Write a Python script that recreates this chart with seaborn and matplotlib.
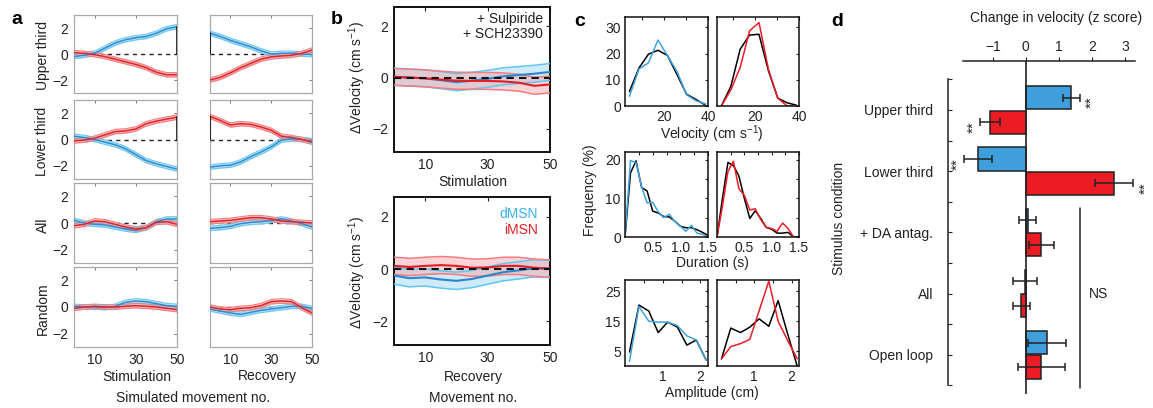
import matplotlib
matplotlib.use("Agg")
import matplotlib.pyplot as plt
from matplotlib.ticker import FixedLocator
import pandas as pd
import seaborn as sns

sns.set_theme(style="white")
plt.rcParams['font.family'] = ['Liberation Sans', 'DejaVu Sans']
plt.rcParams['mathtext.fontset'] = 'custom'
plt.rcParams['mathtext.rm'] = 'Liberation Sans'
plt.rcParams['mathtext.it'] = 'Liberation Sans:italic'
plt.rcParams['axes.unicode_minus'] = True

# ---------------- panel a: simulated movements ----------------
movement = [0, 5, 10, 15, 20, 25, 30, 35, 40, 45, 50]
a_rows = ["Upper third", "Lower third", "All", "Random"]

upper_stim_d = [-0.2, -0.1, 0.05, 0.45, 0.85, 1.1, 1.25, 1.35, 1.6, 1.95, 2.1]
upper_stim_i = [0.1, 0.05, -0.05, -0.2, -0.4, -0.6, -0.8, -1.05, -1.4, -1.6, -1.6]
upper_rec_d = [1.6, 1.35, 1.05, 0.8, 0.55, 0.25, 0.0, 0.05, 0.05, 0.0, -0.05]
upper_rec_i = [-2.0, -1.8, -1.45, -1.05, -0.72, -0.4, -0.22, -0.15, -0.1, 0.05, 0.3]
lower_stim_d = [0.25, 0.15, 0.0, -0.2, -0.4, -0.7, -1.15, -1.6, -1.85, -2.05, -2.25]
lower_stim_i = [-0.1, -0.05, 0.1, 0.35, 0.6, 0.65, 0.8, 1.2, 1.4, 1.55, 1.7]
lower_rec_d = [-2.1, -2.0, -1.95, -1.7, -1.3, -0.95, -0.55, -0.05, 0.05, 0.0, -0.1]
lower_rec_i = [1.75, 1.45, 1.1, 1.2, 1.15, 0.95, 0.7, 0.25, 0.15, 0.0, -0.2]
all_stim_d = [0.2, 0.0, -0.1, -0.15, -0.3, -0.45, -0.55, -0.35, 0.1, 0.3, 0.3]
all_stim_i = [-0.2, -0.1, 0.15, 0.1, -0.1, -0.3, -0.45, -0.35, 0.05, 0.1, -0.1]
all_rec_d = [-0.4, -0.35, -0.25, -0.05, 0.05, 0.1, 0.2, 0.3, 0.15, -0.05, -0.3]
all_rec_i = [0.1, 0.15, 0.2, 0.3, 0.4, 0.4, 0.3, 0.15, 0.1, 0.05, 0.0]
rand_stim_d = [0.05, 0.0, 0.0, -0.05, 0.05, 0.35, 0.45, 0.4, 0.25, 0.1, 0.05]
rand_stim_i = [-0.1, 0.0, 0.05, 0.0, 0.0, 0.05, 0.1, 0.05, 0.0, -0.1, -0.2]
rand_rec_d = [-0.15, -0.3, -0.45, -0.55, -0.4, -0.25, -0.15, -0.05, 0.05, 0.05, -0.1]
rand_rec_i = [0.0, -0.15, -0.2, -0.1, -0.05, 0.1, 0.4, 0.45, 0.4, -0.05, -0.45]
a_sem = 0.17

# ---------------- panel b: with D1/D2 antagonists ----------------
b_stim_d = [0.03, 0.0, -0.03, -0.1, -0.18, -0.12, -0.05, 0.05, 0.1, 0.15, 0.22]
b_stim_i = [0.03, 0.0, -0.03, -0.08, -0.12, -0.13, -0.13, -0.15, -0.2, -0.32, -0.27]
b_rec_d = [-0.25, -0.35, -0.32, -0.4, -0.45, -0.38, -0.25, -0.12, -0.05, 0.03, 0.0]
b_rec_i = [0.12, 0.08, 0.12, 0.15, 0.12, 0.05, 0.06, 0.12, 0.12, 0.05, 0.02]
b_sem = 0.33

# ---------------- panel c: movement parameter distributions ----------------
vel_bins = [4.5, 8.8, 13.1, 17.4, 21.7, 26.0, 30.3, 34.6, 38.9]
vel_ctrl_d = [5.5, 14.5, 19.8, 21.3, 19.3, 12.0, 4.5, 2.5, 0.3]
vel_dmsn = [3.7, 14.1, 16.5, 25.2, 19.2, 13.2, 4.3, 2.0, 0.8]
vel_ctrl_i = [0.0, 7.4, 21.7, 27.1, 27.4, 13.5, 3.0, 1.2, 0.3]
vel_imsn = [0.0, 6.1, 14.7, 28.7, 31.9, 14.1, 3.0, 0.0, 0.0]

dur_bins = [0.0, 0.1, 0.2, 0.3, 0.4, 0.5, 0.6, 0.7, 0.8, 0.9, 1.0, 1.1, 1.2, 1.3, 1.4, 1.5]
dur_ctrl_d = [0, 16.6, 19.7, 12.8, 11.9, 6.7, 6.2, 5.3, 5.2, 4.1, 2.8, 2.4, 2.4, 1.9, 1.2, 0.4]
dur_dmsn = [0, 19.8, 19.2, 13.0, 8.8, 9.0, 6.5, 5.0, 5.9, 4.0, 2.8, 1.5, 3.0, 1.0, 0.7, 0.0]
dur_ctrl_i = [0, 10.0, 19.3, 18.5, 15.8, 10.0, 4.8, 6.8, 4.8, 2.5, 2.0, 1.0, 1.0, 1.2, 0.0, 0.0]
dur_imsn = [0, 8.0, 17.0, 19.6, 12.5, 10.8, 7.0, 7.3, 4.5, 2.5, 2.2, 1.5, 3.6, 2.2, 0.0, 0.0]

amp_bins = [0.12, 0.37, 0.63, 0.88, 1.13, 1.39, 1.64, 1.89, 2.15]
amp_ctrl_d = [4.7, 20.4, 18.4, 11.2, 14.7, 13.0, 7.0, 8.7, 2.0]
amp_dmsn = [1.6, 19.9, 15.0, 14.7, 14.7, 13.5, 10.1, 8.7, 2.0]
amp_ctrl_i = [2.4, 12.7, 11.2, 13.0, 15.8, 13.3, 21.9, 11.0, 0.0]
amp_imsn = [2.4, 6.5, 7.5, 8.9, 18.5, 28.4, 15.0, 8.7, 2.4]

# ---------------- panel d: summary z scores ----------------
conditions = ["Upper third", "Lower third", "+ DA antag.", "All", "Open loop"]
z_dmsn = [1.37, -1.45, 0.05, -0.03, 0.64]
z_imsn = [-1.08, 2.66, 0.47, -0.14, 0.47]
err_dmsn = [0.26, 0.42, 0.27, 0.37, 0.58]
err_imsn = [0.30, 0.58, 0.37, 0.26, 0.70]
significant = [("Upper third", "dMSN"), ("Upper third", "iMSN"),
               ("Lower third", "dMSN"), ("Lower third", "iMSN")]

# colours
BLUE_LINE, BLUE_BAND, BLUE_EDGE = "#2f8cd3", "#b3e0f6", "#6ac6ef"
RED_LINE, RED_BAND, RED_EDGE = "#e3232b", "#f7b8b8", "#f08080"
BAR_BLUE, BAR_RED = "#3f9fdc", "#ec1c24"
C_BLUE, C_RED = "#3fa3dd", "#ee1c25"

W, H = 1153, 408
fig = plt.figure(figsize=(W / 100, H / 100), dpi=100)
FS = 10


def axes_px(x0, y0, x1, y1):
    return fig.add_axes([x0 / W, 1 - y1 / H, (x1 - x0) / W, (y1 - y0) / H])


def text_px(x, y, s, **kw):
    kw.setdefault("fontsize", FS)
    kw.setdefault("ha", "center")
    kw.setdefault("va", "center")
    kw.setdefault("color", "#222222")
    fig.text(x / W, 1 - y / H, s, **kw)


def band(ax, x, y, sem, line, fill, edge, lw=1.1, fill_alpha=1.0, edge_lw=0.8):
    lo = [v - sem for v in y]
    hi = [v + sem for v in y]
    ax.fill_between(x, lo, hi, color=fill, alpha=fill_alpha, lw=0, zorder=2)
    sns.lineplot(x=x, y=lo, ax=ax, color=edge, linewidth=edge_lw, zorder=3, legend=False)
    sns.lineplot(x=x, y=hi, ax=ax, color=edge, linewidth=edge_lw, zorder=3, legend=False)
    sns.lineplot(x=x, y=y, ax=ax, color=line, linewidth=lw, zorder=4, legend=False)


# ---------- panel a ----------
a_data = [
    (upper_stim_d, upper_stim_i, upper_rec_d, upper_rec_i, True),
    (lower_stim_d, lower_stim_i, lower_rec_d, lower_rec_i, True),
    (all_stim_d, all_stim_i, all_rec_d, all_rec_i, False),
    (rand_stim_d, rand_stim_i, rand_rec_d, rand_rec_i, False),
]
a_row_px = [(15, 93), (100, 179), (183, 263), (267, 347)]
a_col_px = [(74, 177), (210, 312)]
for r, (sd, si, rd, ri, edge_bar) in enumerate(a_data):
    for c in range(2):
        ax = axes_px(a_col_px[c][0], a_row_px[r][0], a_col_px[c][1], a_row_px[r][1])
        d_vals, i_vals = (sd, si) if c == 0 else (rd, ri)
        ax.plot([0, 50], [0, 0], ls=(0, (3, 3)), color="#222222", lw=1.0, zorder=1)
        band(ax, movement, d_vals, a_sem, BLUE_LINE, BLUE_BAND, BLUE_EDGE)
        band(ax, movement, i_vals, a_sem, RED_LINE, RED_BAND, RED_EDGE)
        if edge_bar:
            if c == 0:
                ax.plot([50, 50], [0, max(d_vals[-1], i_vals[-1])], color="black", lw=1.1, zorder=5)
            else:
                ax.plot([0, 0], [0, max(d_vals[0], i_vals[0])], color="black", lw=1.1, zorder=5)
        ax.set_xlim(0, 50)
        ax.set_ylim(-3, 3)
        ax.set_xticks([10, 30, 50])
        ax.set_yticks([-2, 0, 2])
        ax.tick_params(direction="in", length=2.5, width=0.7, color="#777777",
                       top=True, right=True, labelsize=FS, pad=4, labelcolor="#222222")
        if c == 1:
            ax.tick_params(labelleft=False)
        if r < 3:
            ax.tick_params(labelbottom=False)
        for s in ax.spines.values():
            s.set_color("#a8a8a8")
            s.set_linewidth(0.9)
        ax.set_xlabel("")
        ax.set_ylabel("")
    text_px(42.5, (a_row_px[r][0] + a_row_px[r][1]) / 2 + 2, a_rows[r], rotation=90)

text_px(17, 19, "a", fontsize=14, fontweight="bold", color="black")
text_px(137, 377, "Stimulation")
text_px(267, 376, "Recovery")
text_px(193, 398, "Simulated movement no.")

# ---------- panel b ----------
b_axes = [((394, 7, 550, 152), b_stim_d, b_stim_i), ((394, 197, 550, 345), b_rec_d, b_rec_i)]
for k, (pos, dv, iv) in enumerate(b_axes):
    ax = axes_px(*pos)
    ax.plot([0, 50], [0, 0], ls=(0, (3.5, 2.5)), color="#111111", lw=1.5, zorder=6)
    band(ax, movement, dv, b_sem, "#2a86cc", "#bfe4f7", "#5fc6f2", lw=1.5, fill_alpha=0.75, edge_lw=1.1)
    band(ax, movement, iv, b_sem, "#e21d25", "#f4a9ad", "#f07d82", lw=1.5, fill_alpha=0.5, edge_lw=1.1)
    ax.set_xlim(0, 50)
    ax.set_ylim(-2.9, 2.75)
    ax.set_xticks([10, 30, 50])
    ax.set_yticks([-2, 0, 2])
    ax.tick_params(direction="in", length=3, width=0.8, color="#222222",
                   top=True, right=True, labelsize=FS, pad=4, labelcolor="#222222")
    for s in ax.spines.values():
        s.set_color("#111111")
        s.set_linewidth(1.4)
    ax.set_xlabel("")
    ax.set_ylabel("")
    text_px(357, (pos[1] + pos[3]) / 2 - 2 + 3 * k, r"$\Delta$Velocity (cm s$^{\mathrm{-1}}$)", rotation=90)

text_px(337, 20, "b", fontsize=14, fontweight="bold", color="black")
text_px(543, 19, "+ Sulpiride", ha="right")
text_px(543, 33.5, "+ SCH23390", ha="right")
text_px(473, 182, "Stimulation")
text_px(538, 214, "dMSN", ha="right", color="#3cb2e8")
text_px(538, 230, "iMSN", ha="right", color="#e8202a")
text_px(473, 377, "Recovery")
text_px(473, 398, "Movement no.")

# ---------- panel c ----------
c_cols = [(625, 708), (717, 799)]
c_rows = [(17, 106), (152, 237), (280, 366)]
c_sets = [
    (vel_bins, (vel_ctrl_d, vel_dmsn), (vel_ctrl_i, vel_imsn), (2.5, 40), (0, 34),
     [20, 40], [10, 30], [0, 10, 20, 30], [], r"Velocity (cm s$^{\mathrm{-1}}$)", 134),
    (dur_bins, (dur_ctrl_d, dur_dmsn), (dur_ctrl_i, dur_imsn), (0, 1.5), (0, 22),
     [0.5, 1, 1.5], [0.25, 0.75, 1.25], [0, 10, 20], [5, 15], "Duration (s)", 263.5),
    (amp_bins, (amp_ctrl_d, amp_dmsn), (amp_ctrl_i, amp_imsn), (0, 2.2), (0, 28.8),
     [1, 2], [0.5, 1.5], [5, 15, 25], [10, 20], "Amplitude (cm)", 393),
]
for r, (xb, dset, iset, xl, yl, xt, xm, yt, ym, xlabel, ylab_y) in enumerate(c_sets):
    for c in range(2):
        ax = axes_px(c_cols[c][0], c_rows[r][0], c_cols[c][1], c_rows[r][1])
        ctrl, stim = dset if c == 0 else iset
        sns.lineplot(x=xb, y=ctrl, ax=ax, color="black", linewidth=1.1, legend=False)
        sns.lineplot(x=xb, y=stim, ax=ax, color=C_BLUE if c == 0 else C_RED,
                     linewidth=1.1, legend=False)
        ax.set_xlim(*xl)
        ax.set_ylim(*yl)
        ax.set_xticks(xt)
        ax.set_yticks(yt)
        ax.xaxis.set_minor_locator(FixedLocator(xm))
        ax.yaxis.set_minor_locator(FixedLocator(ym))
        ax.tick_params(which="both", direction="in", length=2.5, width=0.8, color="#222222",
                       top=True, right=True, labelsize=FS, pad=3, labelcolor="#222222")
        if c == 1:
            ax.tick_params(labelleft=False)
        for s in ax.spines.values():
            s.set_color("#111111")
            s.set_linewidth(1.1)
        ax.set_xlabel("")
        ax.set_ylabel("")
    text_px(712, ylab_y, xlabel)

text_px(580, 21, "c", fontsize=14, fontweight="bold", color="black")
text_px(590, 190, "Frequency (%)", rotation=90)

# ---------- panel d ----------
ax = axes_px(963, 61, 1135, 394)
df = pd.DataFrame({
    "condition": conditions * 2,
    "cell": ["dMSN"] * len(conditions) + ["iMSN"] * len(conditions),
    "z": z_dmsn + z_imsn,
})
sns.barplot(data=df, y="condition", x="z", hue="cell", order=conditions,
            hue_order=["dMSN", "iMSN"], palette={"dMSN": BAR_BLUE, "iMSN": BAR_RED},
            saturation=1, orient="h", width=0.8, gap=0.05, errorbar=None,
            edgecolor="#222222", linewidth=1.1, legend=False, ax=ax)

vals = {"dMSN": z_dmsn, "iMSN": z_imsn}
errs = {"dMSN": err_dmsn, "iMSN": err_imsn}
bar_y = {}
for p in ax.patches:
    yc = p.get_y() + p.get_height() / 2
    k = int(round(yc))
    cell = "dMSN" if yc < k else "iMSN"
    bar_y[(conditions[k], cell)] = yc
for (cond, cell), yc in bar_y.items():
    k = conditions.index(cond)
    ax.errorbar(vals[cell][k], yc, xerr=errs[cell][k], fmt="none", ecolor="#222222",
                elinewidth=1.1, capsize=3, capthick=1.1, zorder=5)
for cond, cell in significant:
    k = conditions.index(cond)
    v, e = vals[cell][k], errs[cell][k]
    xpos = v + e + 0.37 if v > 0 else v - e - 0.2
    ax.text(xpos, bar_y[(cond, cell)] + 0.08, "**", rotation=90, ha="center", va="center",
            fontsize=11, color="#222222", clip_on=False)

ax.axvline(0, color="#222222", lw=1.2, zorder=4)
ns_top = conditions.index("+ DA antag.") - 0.4
ns_bottom = conditions.index("Open loop") + 0.54
ax.plot([1.65, 1.65], [ns_top, ns_bottom], color="#222222", lw=1.1)
ax.text(2.2, conditions.index("All"), "NS", ha="center", va="center", fontsize=FS, color="#222222")

ax.set_xlim(-1.9, 3.3)
ax.set_ylim(4.64, -0.8)
ax.set_xticks([-1, 0, 1, 2, 3])
ax.xaxis.tick_top()
ax.tick_params(axis="x", direction="out", length=3, width=0.8, color="#222222",
               labelsize=FS, pad=2, labelcolor="#222222")
ax.set_yticks(range(len(conditions)))
ax.set_yticklabels(conditions)
ax.yaxis.set_minor_locator(FixedLocator([k - 0.5 for k in range(len(conditions) + 1)]))
ax.tick_params(axis="y", which="both", direction="in", length=3, width=0.8, color="#222222",
               left=True, right=False, labelsize=FS, pad=10.5, labelcolor="#222222")
ax.spines["left"].set_position(("outward", 11))
ax.spines["left"].set_bounds(-0.5, len(conditions) - 0.5)
ax.spines["right"].set_visible(False)
ax.spines["bottom"].set_visible(False)
for s in ("left", "top"):
    ax.spines[s].set_color("#222222")
    ax.spines[s].set_linewidth(1.1)
ax.set_xlabel("")
ax.set_ylabel("")
ax.set_facecolor("none")

text_px(837, 21, "d", fontsize=14, fontweight="bold", color="black")
text_px(1056, 18, "Change in velocity (z score)")
text_px(839, 218, "Stimulus condition", rotation=90)

fig.savefig("out.png", dpi=100)
